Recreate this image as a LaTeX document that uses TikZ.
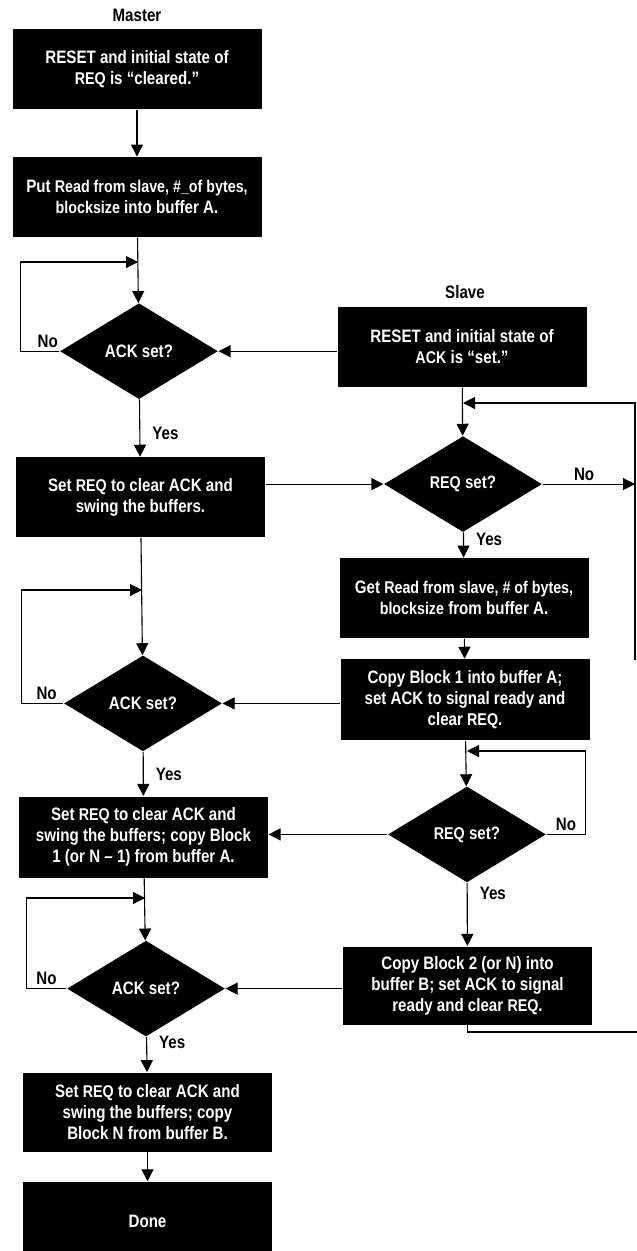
\documentclass[tikz,border=0pt]{standalone}
\usepackage{fontspec}
\setmainfont{Liberation Sans}[FakeStretch=0.84]
\usetikzlibrary{arrows.meta,positioning,shapes.geometric}

\newcommand\smtxt[1]{{\fontsize{17}{21}\selectfont #1}}

\begin{document}
\begin{tikzpicture}[x=1pt,y=-1pt,>={Triangle[length=12pt,width=12pt]},line width=1.1pt,auto,
    blk/.style={fill=black,text=white,font=\fontsize{18}{21}\selectfont\bfseries,align=center,
                minimum width=249pt,minimum height=80pt,inner sep=0pt},
    test/.style={diamond,fill=black,text=white,font=\fontsize{18}{21}\selectfont\bfseries,
                 minimum width=158pt,minimum height=96pt,inner sep=0pt},
    lbl/.style={font=\fontsize{18}{20}\selectfont\bfseries},
    yes/.style={lbl,inner xsep=12pt}]
            \useasboundingbox (0,0) rectangle (637,1251);

            % master side
            \node[lbl] (mtitle) at (137,15) {Master};
            \node[blk] (mreset) at (137,69) {RESET and initial state of\\\smtxt{REQ} is “cleared.”};
            \node[blk] (mput) [below=47pt of mreset] {Put \smtxt{Read from slave, \#\_of bytes,}\\\smtxt{blocksize} into buffer A.};
            \node[test] (mack1) [below=65pt of mput, xshift=2pt] {ACK set?};
            \node[blk] (mswing) [below=57pt of mack1, xshift=1.5pt] {Set \smtxt{REQ} to clear ACK and\\swing the buffers.};
            \node[test] (mack2) [below=117pt of mswing, xshift=2.5pt] {ACK set?};
            \node[blk, minimum height=81pt] (mcopy) [below=44pt of mack2, xshift=0.5pt] {Set \smtxt{REQ} to clear ACK and\\swing the buffers; copy Block\\1 (or N – 1) from buffer A.};
            \node[test] (mack3) [below=62pt of mcopy, xshift=2.5pt] {ACK set?};
            \node[blk, minimum height=79pt] (mlast) [below=35pt of mack3, xshift=1.5pt] {Set \smtxt{REQ} to clear ACK and\\swing the buffers; copy\\Block N from buffer B.};
            \node[blk] (mdone) [below=29pt of mlast] {Done};

            % slave side
            \node[lbl] (stitle) at (465,292) {Slave};
            \node[blk] (sreset) at (462,347) {RESET and initial state of\\\smtxt{ACK} is “set.”};
            \node[test] (sreq1) [below=48pt of sreset, xshift=1pt] {\smtxt{REQ} set?};
            \node[blk] (sget) [below=25pt of sreq1, xshift=1pt] {Get \smtxt{Read from slave, \# of bytes,}\\\smtxt{blocksize} from buffer A.};
            \node[blk, minimum height=81pt] (scopy1) [below=20pt of sget, xshift=1pt] {Copy Block 1 into buffer A;\\set ACK to signal ready and\\clear \smtxt{REQ}.};
            \node[test] (sreq2) [below=45pt of scopy1, xshift=2pt] {\smtxt{REQ} set?};
            \node[blk, minimum height=78pt] (scopy2) [below=63pt of sreq2, xshift=0.5pt] {Copy Block 2 (or N) into\\buffer B; set ACK to signal\\ready and clear \smtxt{REQ}.};

            % joins
            \coordinate (mj1) at (138,262);
            \coordinate (mj2) at (142,590);
            \coordinate (mj3) at (145,898);
            \coordinate (sj1) at (463,403);
            \coordinate (sj2) at (467,751);
            \coordinate (rtop) at (635,403);
            \coordinate (rbot) at (635,660);
            \coordinate (rmid) at (sreq1.east -| rtop);
            \coordinate (rend) at (637,1032);

            \path[->]
                (mreset) edge (mput)
                (mput) edge (mack1)
                (mack1) edge node[yes, pos=.6] {Yes} (mswing)
                (mswing) edge (mack2)
                (mack2) edge node[yes, pos=.5] {Yes} (mcopy)
                (mcopy) edge (mack3)
                (mack3) edge node[yes, pos=.15] {Yes} (mlast)
                (mlast) edge (mdone)
                (sreset) edge (sreq1)
                (sreq1) edge node[yes, pos=.28] {Yes} (sget)
                (sget) edge (scopy1)
                (scopy1) edge (sreq2)
                (sreq2) edge node[yes, pos=.17] {Yes} (scopy2);

            % loops on the left
            \draw[->] (mack1.west) -- node[lbl, above, pos=.3] {No} ++(-39,0) |- (mj1);
            \draw[->] (mack2.west) -- node[lbl, above, pos=.4] {No} ++(-42,0) |- (mj2);
            \draw[->] (mack3.west) -- node[lbl, above, pos=.5] {No} ++(-40,0) |- (mj3);

            % loops on the right
            \draw[->] (sreq1.east) -- node[lbl, above, pos=.45] {No} (rmid);
            \draw[->] (rbot) -- (rtop) -- (sj1);
            \draw[->] (sreq2.east) -- node[lbl, above] {No} ++(39,0) |- (sj2);
            \draw (scopy2.south) |- (rend);

            % across
            \draw[->] (sreset.west |- mack1.east) -- (mack1.east);
            \draw[->] (mswing.east |- sreq1.west) -- (sreq1.west);
            \draw[->] (scopy1.west |- mack2.east) -- (mack2.east);
            \draw[->] (sreq2.west) -- (sreq2.west -| mcopy.east);
            \draw[->] (scopy2.west |- mack3.east) -- (mack3.east);
\end{tikzpicture}
\end{document}
